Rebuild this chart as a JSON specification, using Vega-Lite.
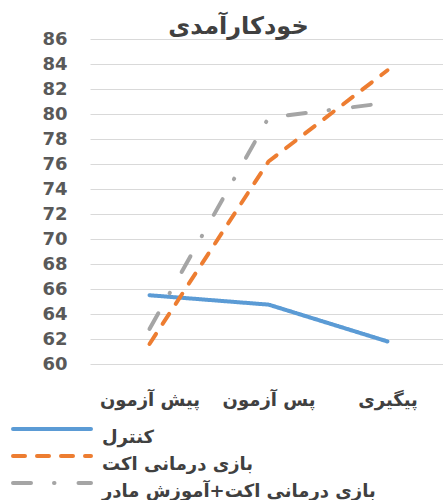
{
  "$schema": "https://vega.github.io/schema/vega-lite/v6.json",
  "width": 357,
  "height": 325,
  "autosize": {"type": "none"},
  "padding": {"left": 90, "top": 39, "right": 0, "bottom": 136},
  "background": "white",
  "config": {"font": "DejaVu Sans", "view": {"stroke": null}},
  "title": {"text": "خودکارآمدی", "fontSize": 24, "fontWeight": "bold", "color": "#404040", "font": "DejaVu Sans", "dx": -30, "offset": -28, "baseline": "alphabetic"},
  "data": {"values": [
    {"time": "پیش آزمون", "group": "کنترل", "value": 65.5},
    {"time": "پس آزمون", "group": "کنترل", "value": 64.75},
    {"time": "پیگیری", "group": "کنترل", "value": 61.8},
    {"time": "پیش آزمون", "group": "بازی درمانی اکت", "value": 61.6},
    {"time": "پس آزمون", "group": "بازی درمانی اکت", "value": 76.2},
    {"time": "پیگیری", "group": "بازی درمانی اکت", "value": 83.5},
    {"time": "پیش آزمون", "group": "بازی درمانی اکت+آموزش مادر", "value": 62.8},
    {"time": "پس آزمون", "group": "بازی درمانی اکت+آموزش مادر", "value": 79.7},
    {"time": "پیگیری", "group": "بازی درمانی اکت+آموزش مادر", "value": 80.9}
  ]},
  "mark": {"type": "line", "interpolate": "linear", "strokeWidth": 4, "strokeCap": "round", "strokeJoin": "round"},
  "encoding": {
    "x": {"field": "time", "type": "nominal", "sort": ["پیش آزمون", "پس آزمون", "پیگیری"],
      "scale": {"type": "point", "padding": 0.5},
      "axis": {"title": null, "labelAngle": 0, "domain": false, "ticks": false, "grid": false, "labelPadding": 27, "labelFontSize": 18, "labelFontWeight": "bold", "labelColor": "#404040"}},
    "y": {"field": "value", "type": "quantitative",
      "scale": {"domain": [60, 86], "nice": false, "zero": false},
      "axis": {"title": null, "values": [60, 62, 64, 66, 68, 70, 72, 74, 76, 78, 80, 82, 84, 86], "domain": false, "ticks": false, "labelPadding": 23, "gridColor": "#D9D9D9", "gridWidth": 1, "labelFontSize": 18, "labelFontWeight": "bold", "labelColor": "#595959"}},
    "color": {"field": "group", "type": "nominal",
      "scale": {"domain": ["کنترل", "بازی درمانی اکت", "بازی درمانی اکت+آموزش مادر"], "range": ["#5B9BD5", "#ED7D31", "#A5A5A5"]},
      "legend": {"title": null, "orient": "none", "legendX": -47, "legendY": 381, "symbolType": "M-13,0H13", "symbolSize": 36, "symbolStrokeWidth": 4, "labelFontSize": 18, "labelFontWeight": "bold", "labelColor": "#404040", "labelOffset": 41, "rowPadding": -2.5, "labelBaseline": "top", "labelLimit": 400, "padding": 0,
        "encode": {"symbols": {"update": {"strokeCap": {"value": "round"}}}}}},
    "strokeDash": {"field": "group", "type": "nominal",
      "scale": {"domain": ["کنترل", "بازی درمانی اکت", "بازی درمانی اکت+آموزش مادر"], "range": [[1, 0], [12, 12], [18, 23, 0.5, 24]]},
      "legend": {"title": null, "orient": "none", "legendX": -47, "legendY": 381, "symbolType": "M-13,0H13", "symbolSize": 36, "symbolStrokeWidth": 4, "labelFontSize": 18, "labelFontWeight": "bold", "labelColor": "#404040", "labelOffset": 41, "rowPadding": -2.5, "labelBaseline": "top", "labelLimit": 400, "padding": 0,
        "encode": {"symbols": {"update": {"strokeCap": {"value": "round"}}}}}}
  }
}
